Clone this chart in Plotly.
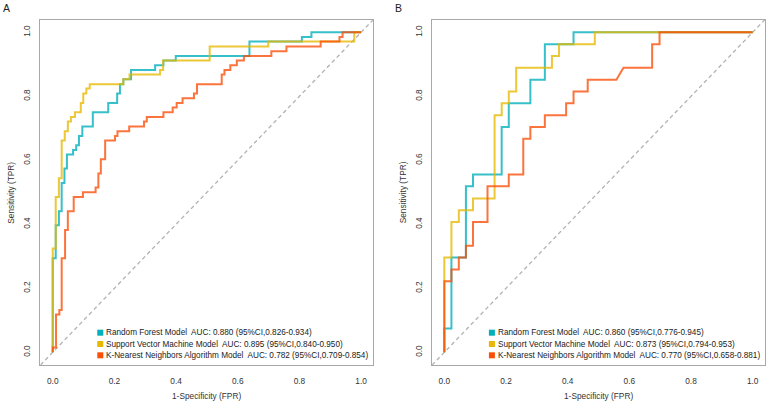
import plotly.graph_objects as go

W, H = 767, 403

# ---------------- data ----------------
models = ["Random Forest Model", "Support Vector Machine Model", "K-Nearest Neighbors Algorithm Model"]
colors = ["#00AFBB", "#E7B800", "#FC4E07"]

# Panel A
A_rf_fpr = [0, 0, 0.0097, 0.0097, 0.020, 0.020, 0.029, 0.029, 0.038, 0.038, 0.046, 0.046, 0.066, 0.066, 0.076, 0.076,
            0.085, 0.085, 0.096, 0.096, 0.130, 0.130, 0.180, 0.180, 0.209, 0.209, 0.218, 0.218, 0.229, 0.229, 0.254, 0.254,
            0.332, 0.332, 0.359, 0.359, 0.399, 0.399, 0.638, 0.638, 0.808, 0.808, 0.839, 0.839, 1]
A_rf_tpr = [0, 0.294, 0.294, 0.397, 0.397, 0.441, 0.441, 0.529, 0.529, 0.574, 0.574, 0.618, 0.618, 0.632, 0.632, 0.647,
            0.647, 0.676, 0.676, 0.706, 0.706, 0.750, 0.750, 0.779, 0.779, 0.809, 0.809, 0.838, 0.838, 0.853, 0.853, 0.882,
            0.882, 0.897, 0.897, 0.912, 0.912, 0.926, 0.926, 0.971, 0.971, 0.985, 0.985, 1, 1]
A_svm_fpr = [0, 0, 0.0097, 0.0097, 0.020, 0.020, 0.029, 0.029, 0.039, 0.039, 0.049, 0.049, 0.059, 0.059, 0.072, 0.072,
             0.091, 0.091, 0.099, 0.099, 0.109, 0.109, 0.120, 0.120, 0.229, 0.229, 0.249, 0.249, 0.348, 0.348, 0.358, 0.358,
             0.509, 0.509, 0.699, 0.699, 0.978, 0.978, 1]
A_svm_tpr = [0, 0.324, 0.324, 0.485, 0.485, 0.544, 0.544, 0.662, 0.662, 0.691, 0.691, 0.721, 0.721, 0.735, 0.735, 0.750,
             0.750, 0.779, 0.779, 0.809, 0.809, 0.824, 0.824, 0.838, 0.838, 0.853, 0.853, 0.868, 0.868, 0.882, 0.882, 0.912,
             0.912, 0.956, 0.956, 0.971, 0.971, 1, 1]
A_knn_fpr = [0, 0, 0.0107, 0.0107, 0.0215, 0.0215, 0.029, 0.029, 0.040, 0.040, 0.049, 0.049, 0.068, 0.068, 0.098, 0.098,
             0.139, 0.139, 0.148, 0.148, 0.156, 0.156, 0.170, 0.170, 0.202, 0.202, 0.210, 0.210, 0.248, 0.248, 0.296, 0.296,
             0.305, 0.305, 0.359, 0.359, 0.389, 0.389, 0.402, 0.402, 0.421, 0.421, 0.458, 0.458, 0.468, 0.468, 0.548, 0.548,
             0.557, 0.557, 0.576, 0.576, 0.597, 0.597, 0.620, 0.620, 0.709, 0.709, 0.758, 0.758, 0.869, 0.869, 0.930, 0.930,
             0.940, 0.940, 1]
A_knn_tpr = [0, 0.015, 0.015, 0.118, 0.118, 0.132, 0.132, 0.294, 0.294, 0.382, 0.382, 0.441, 0.441, 0.485, 0.485, 0.500,
             0.500, 0.515, 0.515, 0.559, 0.559, 0.603, 0.603, 0.662, 0.662, 0.676, 0.676, 0.691, 0.691, 0.706, 0.706, 0.721,
             0.721, 0.735, 0.735, 0.750, 0.750, 0.765, 0.765, 0.779, 0.779, 0.794, 0.794, 0.809, 0.809, 0.838, 0.838, 0.868,
             0.868, 0.882, 0.882, 0.897, 0.897, 0.912, 0.912, 0.926, 0.926, 0.941, 0.941, 0.956, 0.956, 0.971, 0.971, 0.985,
             0.985, 1, 1]
A_auc = ["AUC: 0.880 (95%CI,0.826-0.934)", "AUC: 0.895 (95%CI,0.840-0.950)", "AUC: 0.782 (95%CI,0.709-0.854)"]

# Panel B
B_rf_fpr = [0, 0, 0.023, 0.023, 0.070, 0.070, 0.093, 0.093, 0.186, 0.186, 0.209, 0.209, 0.279, 0.279, 0.326, 0.326,
            0.419, 0.419, 1]
B_rf_tpr = [0, 0.074, 0.074, 0.296, 0.296, 0.519, 0.519, 0.556, 0.556, 0.704, 0.704, 0.778, 0.778, 0.852, 0.852, 0.963,
            0.963, 1, 1]
B_svm_fpr = [0, 0, 0.023, 0.023, 0.047, 0.047, 0.093, 0.093, 0.163, 0.163, 0.186, 0.186, 0.209, 0.209, 0.233, 0.233,
             0.349, 0.349, 0.372, 0.372, 0.488, 0.488, 1]
B_svm_tpr = [0, 0.296, 0.296, 0.407, 0.407, 0.444, 0.444, 0.481, 0.481, 0.741, 0.741, 0.778, 0.778, 0.815, 0.815, 0.889,
             0.889, 0.926, 0.926, 0.963, 0.963, 1, 1]
B_knn_fpr = [0, 0, 0.023, 0.023, 0.047, 0.047, 0.070, 0.070, 0.093, 0.093, 0.140, 0.140, 0.209, 0.209, 0.256, 0.256,
             0.279, 0.279, 0.326, 0.326, 0.395, 0.395, 0.419, 0.419, 0.465, 0.465, 0.558, 0.581, 0.674, 0.674, 0.698, 0.698, 1]
B_knn_tpr = [0, 0.222, 0.222, 0.259, 0.259, 0.296, 0.296, 0.333, 0.333, 0.407, 0.407, 0.519, 0.519, 0.556, 0.556, 0.667,
             0.667, 0.704, 0.704, 0.741, 0.741, 0.778, 0.778, 0.815, 0.815, 0.852, 0.852, 0.889, 0.889, 0.963, 0.963, 1, 1]
B_auc = ["AUC: 0.860 (95%CI,0.776-0.945)", "AUC: 0.873 (95%CI,0.794-0.953)", "AUC: 0.770 (95%CI,0.658-0.881)"]

tick_vals = [0.0, 0.2, 0.4, 0.6, 0.8, 1.0]
tick_text = ["0.0", "0.2", "0.4", "0.6", "0.8", "1.0"]
x_title = "1-Specificity (FPR)"
y_title = "Sensitivity (TPR)"
panel_labels = ["A", "B"]

# ---------------- layout helpers ----------------
FONT = "Liberation Sans, Arial, sans-serif"
def px_x(p):
    return p / W
def px_y(p):
    return 1 - p / H

box_top, box_bot = 19.5, 365.1
boxes = [(40.4, 373.4), (432.0, 765.0)]

fig = go.Figure()

panels = [
    ("x", "y", [(A_rf_fpr, A_rf_tpr), (A_svm_fpr, A_svm_tpr), (A_knn_fpr, A_knn_tpr)], A_auc),
    ("x2", "y2", [(B_rf_fpr, B_rf_tpr), (B_svm_fpr, B_svm_tpr), (B_knn_fpr, B_knn_tpr)], B_auc),
]

for pi, (xa, ya, curves, aucs) in enumerate(panels):
    # reference diagonal
    fig.add_trace(go.Scatter(x=[-0.04, 1.04], y=[-0.04, 1.04], mode="lines", xaxis=xa, yaxis=ya,
                             line=dict(color="#B3B3B3", width=1.3, dash="4px,3px"), showlegend=False,
                             hoverinfo="skip"))
    for (fx, ty), col, name in zip(curves, colors, models):
        fig.add_trace(go.Scatter(x=fx, y=ty, mode="lines", xaxis=xa, yaxis=ya, name=name,
                                 line=dict(color=col, width=2), opacity=0.78, showlegend=False))

axis_common = dict(range=[-0.04, 1.04], showgrid=False, zeroline=False, showline=True, mirror=True,
                   linecolor="#A8A8A8", linewidth=1, ticks="", tickvals=tick_vals, ticktext=tick_text,
                   tickfont=dict(family=FONT, size=8.3, color="#333333"))

fig.update_layout(
    width=W, height=H, margin=dict(l=0, r=0, t=0, b=0),
    paper_bgcolor="white", plot_bgcolor="white", showlegend=False,
    xaxis=dict(domain=[px_x(boxes[0][0]), px_x(boxes[0][1])], anchor="y", ticklabelstandoff=8, **axis_common),
    yaxis=dict(domain=[px_y(box_bot), px_y(box_top)], anchor="x", tickangle=-90, ticklabelstandoff=6, **axis_common),
    xaxis2=dict(domain=[px_x(boxes[1][0]), px_x(boxes[1][1])], anchor="y2", ticklabelstandoff=8, **axis_common),
    yaxis2=dict(domain=[px_y(box_bot), px_y(box_top)], anchor="x2", tickangle=-90, ticklabelstandoff=6, **axis_common),
)

annotations = []
shapes = []
for pi, (bx0, bx1) in enumerate(boxes):
    aucs = A_auc if pi == 0 else B_auc
    cx = (bx0 + bx1) / 2
    # axis titles
    annotations.append(dict(text=x_title, x=px_x(cx), y=px_y(395.5), xref="paper", yref="paper",
                            showarrow=False, xanchor="center", yanchor="middle",
                            font=dict(family=FONT, size=8.3, color="#333333")))
    annotations.append(dict(text=y_title, x=px_x(bx0 - 29), y=px_y((box_top + box_bot) / 2), xref="paper", yref="paper",
                            showarrow=False, xanchor="center", yanchor="middle", textangle=-90,
                            font=dict(family=FONT, size=8.3, color="#333333")))
    # panel label
    annotations.append(dict(text=panel_labels[pi], x=px_x(6.5 if pi == 0 else 398), y=px_y(8), xref="paper", yref="paper",
                            showarrow=False, xanchor="center", yanchor="middle",
                            font=dict(family=FONT, size=10.5, color="#222222")))
    # legend
    sq_left = bx0 + 56.9
    for ri in range(3):
        yc = 332.7 + ri * 11.3
        shapes.append(dict(type="rect", xref="paper", yref="paper",
                           x0=px_x(sq_left), x1=px_x(sq_left + 6), y0=px_y(yc + 3), y1=px_y(yc - 3),
                           fillcolor=colors[ri], line=dict(width=0)))
        annotations.append(dict(text=models[ri] + "\u00a0 " + aucs[ri], x=px_x(sq_left + 7), y=px_y(yc),
                                xref="paper", yref="paper", showarrow=False, xanchor="left", yanchor="middle",
                                font=dict(family=FONT, size=8.2, color="#222222")))

fig.update_layout(annotations=annotations, shapes=shapes)
fig.write_html("out.html")
